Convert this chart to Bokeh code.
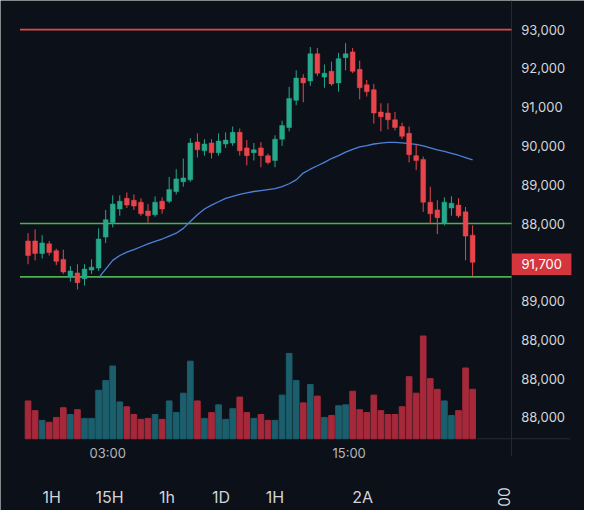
import math
from bokeh.plotting import figure
from bokeh.models import Range1d, ColumnDataSource
from bokeh.core.properties import value
from bokeh.embed import file_html
from bokeh.resources import INLINE

# ---------------- data ----------------
opens = [87550, 87550, 87225, 87475, 87300, 87075, 86625, 86725, 86575, 86800,
         86850, 87650, 88025, 88375, 88650, 88600, 88550, 88325, 88225, 88575,
         88575, 88825, 89075, 89125, 90100, 89875, 90075, 89825, 90050, 90075,
         90350, 89950, 89825, 89950, 89750, 89625, 90175, 90475, 91175, 91750,
         91675, 92375, 91775, 91925, 91625, 92275, 92425, 91975, 91575, 91450,
         90875, 90850, 90675, 90500, 90325, 89750, 89650, 88550, 88350, 88000,
         88400, 88475, 88300, 87700]
closes = [87175, 87225, 87500, 87250, 87025, 86750, 86775, 86475, 86825, 86875,
          87600, 88100, 88500, 88575, 88475, 88450, 88250, 88200, 88550, 88375,
          88875, 89150, 89175, 90075, 89900, 90050, 89825, 90125, 90150, 90350,
          89875, 89750, 89900, 89750, 89575, 90175, 90525, 91225, 91750, 91625,
          92375, 91875, 91875, 91600, 92250, 92375, 91925, 91500, 91400, 90850,
          90750, 90675, 90475, 90250, 89775, 89625, 88550, 88250, 88150, 88550,
          88525, 88200, 87675, 87000]
highs = [87750, 87850, 87700, 87550, 87350, 87325, 86900, 86950, 86950, 87075,
         87875, 88350, 88725, 88725, 88800, 88750, 88650, 88500, 88700, 88675,
         89200, 89400, 89675, 90200, 90325, 90175, 90175, 90325, 90350, 90500,
         90450, 90150, 90075, 90100, 89800, 90275, 90650, 91525, 91950, 91850,
         92550, 92525, 92100, 92175, 92400, 92650, 92525, 92200, 91700, 91600,
         91100, 91100, 90875, 90600, 90500, 90050, 89725, 88950, 88600, 88675,
         88700, 88650, 88425, 87950]
lows = [86950, 87050, 87100, 87175, 86925, 86700, 86500, 86300, 86400, 86700,
        86775, 87500, 87900, 88200, 88400, 88350, 88200, 88025, 88175, 88250,
        88525, 88750, 88950, 89075, 89700, 89750, 89675, 89750, 89950, 90000,
        89750, 89500, 89625, 89450, 89525, 89450, 90000, 90375, 91050, 91125,
        91550, 91800, 91500, 91550, 91400, 91950, 91875, 91200, 91275, 90575,
        90375, 90425, 90400, 90175, 89575, 89375, 88300, 88000, 87725, 87950,
        88200, 88150, 87050, 86650]
volumes = [39, 29, 19, 17, 22, 32, 25, 30, 21, 21,
           50, 60, 75, 38, 33, 25, 20, 21, 25, 20,
           39, 27, 47, 80, 39, 21, 27, 35, 20, 31,
           43, 27, 21, 25, 19, 19, 45, 88, 60, 37,
           56, 44, 22, 24, 34, 35, 49, 30, 27, 45,
           29, 25, 25, 33, 64, 47, 106, 62, 51, 39,
           24, 29, 73, 51]
volume_side = list("RRGRRRGRGG" "GGGGRRRRGR" "GGGGRGRGGG" "RRGRRGGGGR"
                   "GRGRGGRRRR" "RRRRRRRRRG" "GRRR")
ma_start = 11
ma_values = [86600, 86825, 87050, 87175, 87260, 87325, 87400, 87475, 87540, 87600,
             87675, 87750, 87875, 88050, 88225, 88375, 88475, 88560, 88650, 88700,
             88750, 88790, 88825, 88850, 88875, 88900, 88950, 89025, 89125, 89300,
             89400, 89490, 89575, 89675, 89750, 89840, 89910, 89975, 90010, 90050,
             90075, 90090, 90090, 90080, 90060, 90040, 90000, 89950, 89900, 89860,
             89810, 89760, 89700, 89640]
resistance_levels = [93000]
support_levels = [88000, 86625]
last_price_level = 86950
last_price_text = "91,700"
price_ticks = [93000, 92000, 91000, 90000, 89000, 88000, 86000, 85000, 84000, 83000]
price_tick_labels = ["93,000", "92,000", "91,000", "90,000", "89,000", "88,000",
                     "89,000", "88,000", "88,000", "88,000"]
time_ticks = [12.3, 46.5]
time_tick_labels = ["03:00", "15:00"]
interval_buttons = ["1H", "15H", "1h", "1D", "1H", "2A"]
interval_button_pos = [4.34, 12.54, 20.68, 28.34, 35.99, 48.41]
rotated_button = "00"
rotated_button_pos = 68.41

# ---------------- style / layout ----------------
BG = "#0c1018"
UP = "#26a88a"
DOWN = "#e8454b"
VOL_UP = "#1b5e6c"
VOL_DOWN = "#a5293a"
SEP = "#262a33"
FONT = value("Inter")

W, H = 584, 510
SX, SY = W / 600.0, H / 526.0        # whole reference scaled into the canvas

X_LO, X_HI = -2.903, 79.855          # candle-index range across the canvas
Y_LO, Y_HI = 80600, 93750            # price range across the canvas
PANE_RIGHT = 69.51                   # right edge of the chart pane
LABEL_X = 70.89                      # price-scale label column
BADGE_X = 73.79
LINE_START = -0.15
TIME_Y = 82075
BUTTON_Y = 80950
SEP_BOTTOM = 82000

idx = list(range(1, len(opens) + 1))
colors = [UP if c >= o else DOWN for o, c in zip(opens, closes)]
src = ColumnDataSource(dict(
    x=idx, o=opens, c=closes, h=highs, l=lows,
    top=[max(o, c) for o, c in zip(opens, closes)],
    bot=[min(o, c) for o, c in zip(opens, closes)],
    color=colors,
    vol=volumes,
    vcolor=[VOL_UP if s == "G" else VOL_DOWN for s in volume_side],
))

p = figure(width=W, height=H, output_backend="svg", toolbar_location=None,
           title=None,
           x_range=Range1d(X_LO, X_HI), y_range=Range1d(Y_LO, Y_HI),
           x_axis_location=None, y_axis_location=None,
           min_border=0, min_border_left=0, min_border_right=0,
           min_border_top=0, min_border_bottom=0,
           background_fill_color=BG, border_fill_color=BG,
           outline_line_color=None)
p.xgrid.visible = False
p.ygrid.visible = False
p.extra_y_ranges = {"vol": Range1d(-74, 452)}

# pane separator and volume baseline
p.segment(x0=PANE_RIGHT, x1=PANE_RIGHT, y0=SEP_BOTTOM, y1=Y_HI, line_color=SEP, line_width=1)
p.segment(x0=64.66, x1=77.8, y0=0, y1=0, line_color=SEP, line_width=1, y_range_name="vol")

# volume
p.vbar(x="x", top="vol", bottom=0, width=0.8, color="vcolor", source=src,
       y_range_name="vol")

# level lines
for lv in resistance_levels:
    p.segment(x0=LINE_START, x1=PANE_RIGHT, y0=lv, y1=lv, line_color="#e2454a", line_width=1.6)
for lv in support_levels:
    p.segment(x0=LINE_START, x1=PANE_RIGHT, y0=lv, y1=lv, line_color="#4caf50", line_width=1.6)

# moving average
p.line(x=list(range(ma_start, ma_start + len(ma_values))), y=ma_values,
       line_color="#4d82dc", line_width=1.3)

# candles
p.segment(x0="x", x1="x", y0="h", y1="l", line_color="color", line_width=1, source=src)
p.vbar(x="x", top="top", bottom="bot", width=0.68, fill_color="color",
       line_color="color", line_width=0.5, source=src)

# price scale labels
p.text(x=[LABEL_X] * len(price_ticks), y=price_ticks, text=price_tick_labels,
       text_align="left", text_baseline="middle", text_color="#d4d6da",
       text_font=FONT, text_font_size="13px")

# last price badge
p.rect(x=[BADGE_X], y=[last_price_level], width=61 * SX, height=22 * SY,
       width_units="screen", height_units="screen",
       fill_color="#d5363d", line_color=None)
p.text(x=[BADGE_X], y=[last_price_level], text=[last_price_text],
       text_align="center", text_baseline="middle", text_color="#ffffff",
       text_font=FONT, text_font_size="13px")

# time labels
p.text(x=time_ticks, y=[TIME_Y] * len(time_ticks), text=time_tick_labels,
       text_align="center", text_baseline="middle", text_color="#b3b6bc",
       text_font=FONT, text_font_size="13px")

# interval buttons
p.text(x=interval_button_pos, y=[BUTTON_Y] * len(interval_buttons), text=interval_buttons,
       text_align="center", text_baseline="middle", text_color="#d2d4d8",
       text_font=FONT, text_font_size="16px")
p.text(x=[rotated_button_pos], y=[BUTTON_Y], text=[rotated_button], angle=math.pi / 2,
       text_align="center", text_baseline="middle", text_color="#d2d4d8",
       text_font=FONT, text_font_size="15.5px")

open("out.html", "w").write(file_html(p, INLINE))
